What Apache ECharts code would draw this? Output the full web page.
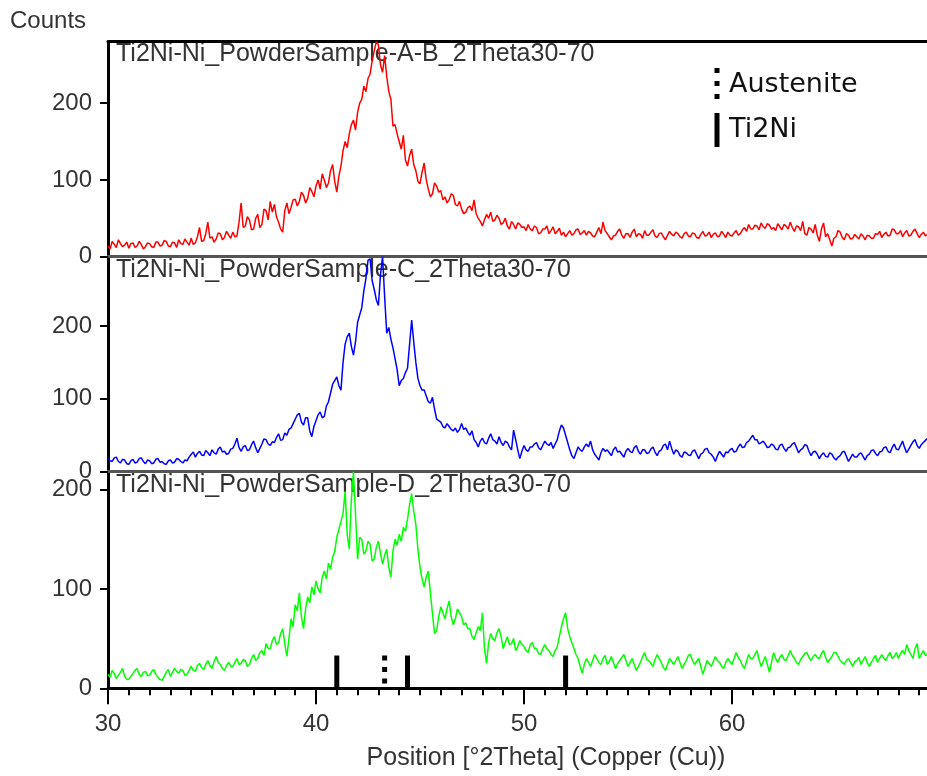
<!DOCTYPE html>
<html>
<head>
<meta charset="utf-8">
<title>XRD Ti2Ni-Ni powder samples</title>
<script src="https://cdn.jsdelivr.net/npm/echarts@6/dist/echarts.min.js"></script>
<style>
  html, body { margin: 0; padding: 0; background: #fff; }
  #chart_id { width: 927px; height: 776px; }
</style>
</head>
<body>
<div id="chart_id"></div>
<script>
// 2Theta start and step of the scans (0.1 deg), one row = 1 deg
const thetaStart = 30;
const thetaStep = 0.1;

// sample A-B (red)
const countsAB = [
  14, 10, 20, 16, 12, 22, 17, 13, 15, 19,
  11, 17, 18, 12, 14, 20, 16, 10, 13, 18,
  17, 13, 12, 19, 19, 14, 15, 21, 20, 14,
  13, 19, 18, 12, 22, 17, 16, 23, 19, 15,
  24, 16, 18, 26, 38, 20, 21, 30, 45, 24,
  26, 19, 23, 31, 30, 22, 25, 33, 28, 24,
  32, 26, 27, 45, 70, 38, 40, 52, 48, 35,
  36, 50, 55, 38, 42, 62, 60, 48, 72, 58,
  68, 52, 45, 36, 32, 60, 70, 56, 64, 74,
  75, 66, 72, 84, 80, 70, 76, 90, 85, 78,
  92, 100, 88, 108, 100, 90, 96, 112, 120, 98,
  84, 105, 118, 138, 150, 142, 160, 172, 178, 165,
  188, 200, 205, 222, 215, 232, 238, 255, 268, 280,
  276, 250, 240, 262, 235, 215, 205, 170, 172, 160,
  150, 140, 158, 126, 118, 132, 140, 120, 112, 98,
  95, 110, 122, 100, 88, 78, 82, 96, 92, 84,
  86, 74, 78, 70, 74, 82, 80, 68, 66, 72,
  62, 56, 58, 64, 66, 60, 74, 56, 50, 46,
  40, 48, 55, 50, 58, 46, 48, 54, 50, 42,
  44, 50, 40, 36, 46, 42, 36, 44, 42, 38,
  39, 34, 42, 36, 34, 40, 38, 30, 31, 36,
  36, 40, 30, 34, 39, 30, 33, 37, 28, 32,
  26, 30, 34, 28, 30, 35, 36, 29, 31, 34,
  28, 33, 31, 27, 26, 32, 38, 30, 45, 34,
  30, 26, 22, 27, 28, 33, 36, 28, 24, 30,
  30, 25, 32, 36, 26, 30, 29, 24, 34, 28,
  28, 32, 35, 27, 25, 30, 31, 26, 22, 28,
  33, 29, 27, 32, 30, 26, 24, 30, 32, 27,
  26, 31, 30, 25, 24, 29, 33, 27, 28, 32,
  25, 29, 31, 26, 27, 33, 29, 25, 32, 28,
  27, 31, 34, 28, 30, 35, 38, 33, 42, 36,
  36, 41, 40, 35, 44, 39, 37, 43, 41, 36,
  38, 34, 43, 39, 35, 42, 40, 36, 45, 38,
  33, 40, 39, 34, 46, 30, 28, 38, 36, 31,
  42, 28, 20, 36, 44, 26, 30, 22, 14, 24,
  26, 34, 32, 25, 22, 30, 28, 23, 24, 29,
  26, 23, 30, 27, 22, 28, 27, 24, 24, 30,
  29, 33, 25, 29, 32, 27, 28, 36, 35, 30,
  30, 34, 26, 31, 34, 27, 28, 33, 36, 30,
  25, 29, 32, 27, 29
];

// sample C (blue)
const countsC = [
  18, 15, 14, 19, 20, 14, 12, 17, 16, 11,
  10, 15, 17, 12, 13, 18, 19, 14, 11, 16,
  15, 11, 12, 17, 18, 13, 14, 11, 10, 15,
  16, 12, 13, 18, 17, 14, 12, 16, 15, 20,
  24, 27, 20, 25, 28, 23, 22, 29, 26, 22,
  30, 26, 24, 31, 34, 27, 28, 24, 25, 31,
  32, 38, 46, 33, 28, 34, 36, 29, 30, 37,
  42, 33, 26, 32, 38, 45, 44, 38, 36, 41,
  40, 47, 52, 43, 44, 53, 50, 58, 60, 66,
  72, 78, 80, 68, 64, 74, 74, 56, 48, 62,
  70, 78, 82, 74, 76, 90, 96, 108, 120, 125,
  130, 118, 112, 150, 175, 185, 190, 172, 160, 178,
  205, 215, 225, 248, 265, 290, 292, 262, 250, 236,
  228, 270, 295, 240, 190, 198, 182, 170, 155, 140,
  118, 125, 128, 136, 142, 175, 208, 178, 150, 128,
  118, 112, 112, 104, 96, 94, 102, 86, 72, 70,
  68, 62, 60, 66, 62, 58, 56, 60, 54, 58,
  66, 58, 60, 54, 50, 56, 44, 40, 34, 42,
  46, 40, 38, 46, 52, 44, 42, 38, 48, 40,
  36, 42, 40, 34, 30, 57, 44, 30, 18, 28,
  36, 30, 28, 34, 34, 38, 40, 33, 30, 36,
  42, 38, 36, 40, 32, 38, 44, 56, 64, 60,
  50, 40, 30, 22, 18, 26, 34, 30, 28, 34,
  38, 34, 42, 30, 24, 20, 16, 26, 32, 28,
  30, 26, 22, 30, 34, 27, 28, 24, 20, 28,
  32, 28, 26, 33, 36, 28, 24, 30, 30, 25,
  26, 31, 34, 27, 22, 28, 30, 36, 38, 30,
  42, 32, 24, 30, 28, 22, 20, 27, 26, 23,
  22, 28, 30, 24, 18, 24, 26, 31, 32, 26,
  24, 20, 14, 22, 28, 24, 20, 27, 26, 30,
  32, 27, 28, 34, 38, 33, 34, 40, 42, 46,
  50, 44, 44, 38, 40, 42, 38, 33, 34, 38,
  36, 31, 30, 36, 38, 32, 28, 33, 34, 38,
  40, 33, 26, 30, 32, 37, 36, 28, 22, 27,
  28, 24, 18, 23, 26, 21, 20, 26, 24, 19,
  16, 20, 22, 27, 28, 21, 14, 19, 24, 20,
  20, 24, 26, 21, 16, 22, 24, 29, 30, 25,
  22, 27, 28, 33, 34, 28, 26, 33, 38, 31,
  30, 36, 42, 33, 26, 31, 36, 41, 44, 36,
  32, 37, 40, 43, 46
];

// sample D (green)
const countsD = [
  14, 11, 18, 15, 10, 13, 16, 20, 12, 9,
  9, 12, 15, 18, 20, 14, 12, 16, 17, 13,
  13, 17, 19, 14, 11, 9, 8, 12, 16, 19,
  12, 16, 20, 17, 15, 19, 18, 13, 14, 18,
  22, 18, 17, 23, 25, 21, 19, 24, 28, 23,
  20, 27, 32, 26, 24, 20, 18, 23, 26, 22,
  22, 26, 30, 24, 25, 29, 28, 22, 24, 30,
  34, 28, 30, 36, 38, 33, 45, 40, 40, 48,
  52, 44, 46, 55, 60, 45, 32, 50, 70, 62,
  84, 78, 96, 72, 60, 80, 92, 86, 102, 94,
  108, 100, 96, 112, 118, 110, 126, 120, 132, 138,
  152, 160, 168, 176, 198, 155, 140, 190, 218, 175,
  130, 152, 150, 135, 138, 148, 145, 128, 130, 142,
  148, 136, 125, 134, 140, 122, 112, 138, 150, 144,
  155, 148, 162, 158, 170, 185, 196, 178, 165, 140,
  122, 110, 102, 112, 118, 96, 75, 55, 58, 72,
  82, 76, 70, 80, 88, 72, 64, 70, 80, 76,
  72, 64, 66, 60, 60, 52, 49, 56, 62, 58,
  76, 40, 25, 46, 55, 50, 48, 56, 60, 52,
  40, 46, 52, 44, 45, 50, 38, 42, 48, 44,
  42, 38, 36, 44, 46, 40, 40, 35, 34, 40,
  44, 40, 38, 34, 32, 38, 42, 52, 62, 70,
  76, 60, 52, 46, 40, 34, 30, 22, 15, 24,
  30, 26, 22, 28, 34, 30, 26, 24, 30, 33,
  24, 27, 32, 26, 20, 25, 28, 31, 34, 28,
  22, 26, 30, 24, 18, 22, 26, 32, 36, 29,
  28, 25, 22, 29, 34, 30, 26, 21, 18, 24,
  30, 27, 24, 28, 32, 26, 20, 24, 28, 33,
  34, 28, 24, 27, 30, 22, 14, 21, 28, 25,
  22, 27, 32, 28, 26, 22, 20, 26, 30, 27,
  24, 30, 36, 31, 28, 23, 20, 27, 34, 30,
  30, 34, 38, 29, 22, 27, 32, 24, 16, 26,
  36, 30, 26, 31, 34, 29, 28, 33, 38, 33,
  30, 26, 24, 29, 32, 35, 36, 31, 28, 32,
  34, 31, 30, 35, 38, 31, 26, 29, 32, 36,
  36, 32, 28, 26, 24, 28, 30, 26, 22, 27,
  28, 31, 24, 28, 32, 26, 22, 26, 30, 33,
  26, 30, 34, 30, 28, 33, 36, 30, 32, 36,
  30, 35, 38, 34, 44, 38, 34, 30, 40, 45,
  30, 34, 38, 33, 34
];

// reference pattern lines
const ti2niPos = [41.0, 44.4, 52.0];
const ti2niCounts = [33, 33, 33];
const austenitePos = [43.3];
const austeniteCounts = [33];

const panelTitles = [
  'Ti2Ni-Ni_PowderSample-A-B_2Theta30-70',
  'Ti2Ni-Ni_PowderSample-C_2Theta30-70',
  'Ti2Ni-Ni_PowderSample-D_2Theta30-70',
];
const xTicks = [30, 40, 50, 60];
const yTicks = [0, 100, 200];
const yMax = [280, 295, 218];

const toPoints = (counts) => counts.map((v, i) => [+(thetaStart + i * thetaStep).toFixed(1), v]);

const myChart = echarts.init(document.getElementById('chart_id'), null, { renderer: 'canvas' });

const font = "'Liberation Sans', Arial, sans-serif";
const grids = [
  { left: 108, top: 41.7, height: 215, width: 832, outerBoundsMode: 'none', containLabel: false },
  { left: 108, top: 256.7, height: 215, width: 832, outerBoundsMode: 'none', containLabel: false },
  { left: 108, top: 471.7, height: 216.6, width: 832, outerBoundsMode: 'none', containLabel: false },
];

const xAxes = grids.map((g, i) => ({
  type: 'value',
  gridIndex: i,
  min: 30,
  max: 70,
  interval: 10,
  position: 'bottom',
  axisLine: { show: true, onZero: false, lineStyle: { color: i === 2 ? '#000' : '#555', width: 3 } },
  axisTick: {
    show: i === 2,
    inside: false,
    length: 16,
    lineStyle: { color: '#000', width: 2 },
  },
  minorTick: {
    show: i === 2,
    splitNumber: 10,
    length: 7,
    lineStyle: { color: '#000', width: 2 },
  },
  axisLabel: {
    show: i === 2,
    customValues: xTicks,
    margin: 24,
    fontSize: 24,
    fontFamily: font,
    color: '#333',
  },
  splitLine: { show: false },
}));
// top frame line
xAxes.push({
  type: 'value',
  gridIndex: 0,
  min: 30,
  max: 70,
  position: 'top',
  axisLine: { show: true, onZero: false, lineStyle: { color: '#000', width: 3 } },
  axisTick: { show: false },
  axisLabel: { show: false },
  splitLine: { show: false },
});

const yAxes = grids.map((g, i) => ({
  type: 'value',
  gridIndex: i,
  min: 0,
  max: yMax[i],
  interval: 100,
  axisLine: { show: true, lineStyle: { color: '#000', width: 3 } },
  axisTick: {
    show: true,
    customValues: yTicks,
    length: 8,
    lineStyle: { color: '#000', width: 2 },
  },
  axisLabel: {
    customValues: yTicks,
    margin: 16,
    fontSize: 24,
    fontFamily: font,
    color: '#333',
  },
  splitLine: { show: false },
}));

const lineSeries = (data, color, idx) => ({
  type: 'line',
  xAxisIndex: idx,
  yAxisIndex: idx,
  data: toPoints(data),
  showSymbol: false,
  symbol: 'none',
  lineStyle: { color: color, width: 1.5 },
  silent: true,
});

const refSeries = (pos, counts, dashed) => ({
  type: 'custom',
  xAxisIndex: 2,
  yAxisIndex: 2,
  data: pos.map((p, i) => [p, counts[i]]),
  renderItem: (params, api) => {
    const top = api.coord([api.value(0), api.value(1)]);
    const bottom = api.coord([api.value(0), 0]);
    return {
      type: 'line',
      shape: { x1: top[0], y1: top[1], x2: bottom[0], y2: bottom[1] - (dashed ? 4 : 0) },
      style: { stroke: '#000', lineWidth: 5, lineDash: dashed ? [5, 6.5] : null },
    };
  },
  z: 5,
});

const titleText = (text, top) => ({
  type: 'text',
  left: 116,
  top: top,
  style: { text: text, font: '25px ' + font, fill: '#333' },
});

const option = {
  animation: false,
  backgroundColor: '#fff',
  grid: grids,
  xAxis: xAxes,
  yAxis: yAxes,
  series: [
    lineSeries(countsAB, '#ff0000', 0),
    lineSeries(countsC, '#0000ff', 1),
    lineSeries(countsD, '#00ff00', 2),
    refSeries(ti2niPos, ti2niCounts, false),
    refSeries(austenitePos, austeniteCounts, true),
  ],
  graphic: [
    { type: 'text', left: 10, top: 9, style: { text: 'Counts', font: '24px ' + font, fill: '#333' } },
    titleText(panelTitles[0], 42),
    titleText(panelTitles[1], 258),
    titleText(panelTitles[2], 473),
    {
      type: 'text',
      x: 546,
      y: 758,
      style: {
        text: 'Position [°2Theta] (Copper (Cu))',
        font: '25px ' + font,
        fill: '#333',
        align: 'center',
        verticalAlign: 'middle',
      },
    },
    // legend
    { type: 'line', shape: { x1: 717, y1: 68, x2: 717, y2: 101 }, style: { stroke: '#000', lineWidth: 5, lineDash: [5, 8] } },
    { type: 'text', left: 729, top: 71, style: { text: 'Austenite', font: "27px 'DejaVu Sans', sans-serif", fill: '#111' } },
    { type: 'line', shape: { x1: 717, y1: 113, x2: 717, y2: 147 }, style: { stroke: '#000', lineWidth: 5 } },
    { type: 'text', left: 729, top: 116, style: { text: 'Ti2Ni', font: "27px 'DejaVu Sans', sans-serif", fill: '#111' } },
  ],
};

myChart.clear();
myChart.setOption(option);
window.onresize = myChart.resize;
</script>
</body>
</html>
